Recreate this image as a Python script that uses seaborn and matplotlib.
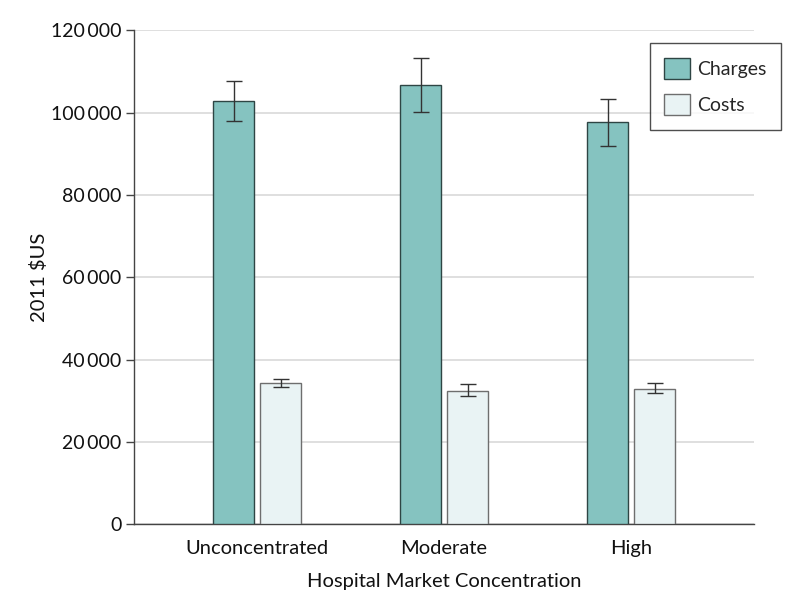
import matplotlib
matplotlib.use("Agg")
import matplotlib.pyplot as plt
import seaborn as sns
import pandas as pd
import numpy as np
from matplotlib.patches import Patch

categories = ["Unconcentrated", "Moderate", "High"]
series = ["Charges", "Costs"]
charges = [102800, 106700, 97800]
charges_lo = [98000, 100200, 92000]
charges_hi = [107600, 113200, 103400]
costs = [34300, 32500, 33000]
costs_lo = [33350, 31200, 31800]
costs_hi = [35300, 34000, 34300]
yticks = [0, 20000, 40000, 60000, 80000, 100000, 120000]
ytick_labels = ["0", "20\u2009000", "40\u2009000", "60\u2009000", "80\u2009000", "100\u2009000", "120\u2009000"]

sns.set_theme(style="white")
plt.rcParams['font.family'] = ['Lato', 'DejaVu Sans']

df = pd.DataFrame({
    "cat": categories * 2,
    "series": ["Charges"] * 3 + ["Costs"] * 3,
    "value": charges + costs,
})

fig = plt.figure(figsize=(7.98, 6.09), dpi=100)
ax = fig.add_axes([0.168, 0.139, 0.777, 0.811])
colors = {"Charges": "#85C3C0", "Costs": "#E9F3F4"}
sns.barplot(data=df, x="cat", y="value", hue="series", order=categories,
            hue_order=series, palette=colors, saturation=1, width=0.503, gap=0.125,
            errorbar=None, ax=ax, legend=False, zorder=3)

edgecols = {"Charges": "#2E4544", "Costs": "#6E6E6E"}
for i, p in enumerate(ax.patches[:6]):
    s = series[i // 3]
    p.set_edgecolor(edgecols[s])
    p.set_linewidth(1.0)

bars = ax.patches[:6]
vals = charges + costs
los = charges_lo + costs_lo
his = charges_hi + costs_hi
xs = [b.get_x() + b.get_width() / 2 for b in bars]
yerr = np.array([[v - l for v, l in zip(vals, los)], [h - v for v, h in zip(vals, his)]])
ax.errorbar(xs, vals, yerr=yerr, fmt="none", ecolor="#333333", elinewidth=1.0,
            capsize=6, capthick=1.0, zorder=4)

ax.set_xlim(-0.658, 2.658)
ax.set_ylim(0, 120000)
ax.set_yticks(yticks)
ax.set_yticklabels(ytick_labels)
ax.yaxis.grid(True, color="#D9D9D9", linewidth=1.2, zorder=0)
ax.set_axisbelow(True)
for s in ["top", "right"]:
    ax.spines[s].set_visible(False)
for s in ["left", "bottom"]:
    ax.spines[s].set_color("#444444")
    ax.spines[s].set_linewidth(1.0)
ax.tick_params(axis="y", left=True, length=6, width=1, color="#444444", labelsize=14, pad=3, labelcolor="#111111")
ax.tick_params(axis="x", bottom=False, labelsize=14.5, pad=5, labelcolor="#111111")
ax.set_xlabel("Hospital Market Concentration", fontsize=14.5, labelpad=12, color="#111111")
ax.set_ylabel("2011 $US", fontsize=14.5, labelpad=2, color="#111111")

handles = [Patch(facecolor=colors[s], edgecolor=edgecols[s], linewidth=1.0) for s in series]
leg = fig.legend(handles, series, loc="upper right", bbox_to_anchor=(0.979, 0.929),
                 fontsize=14, frameon=True, fancybox=False, edgecolor="#222222",
                 handlelength=1.3, handleheight=1.3, handletextpad=0.4,
                 labelspacing=0.78, borderpad=0.75, borderaxespad=0)
leg.get_frame().set_linewidth(1.0)
leg.set_zorder(10)

fig.savefig("out.png", dpi=100)
